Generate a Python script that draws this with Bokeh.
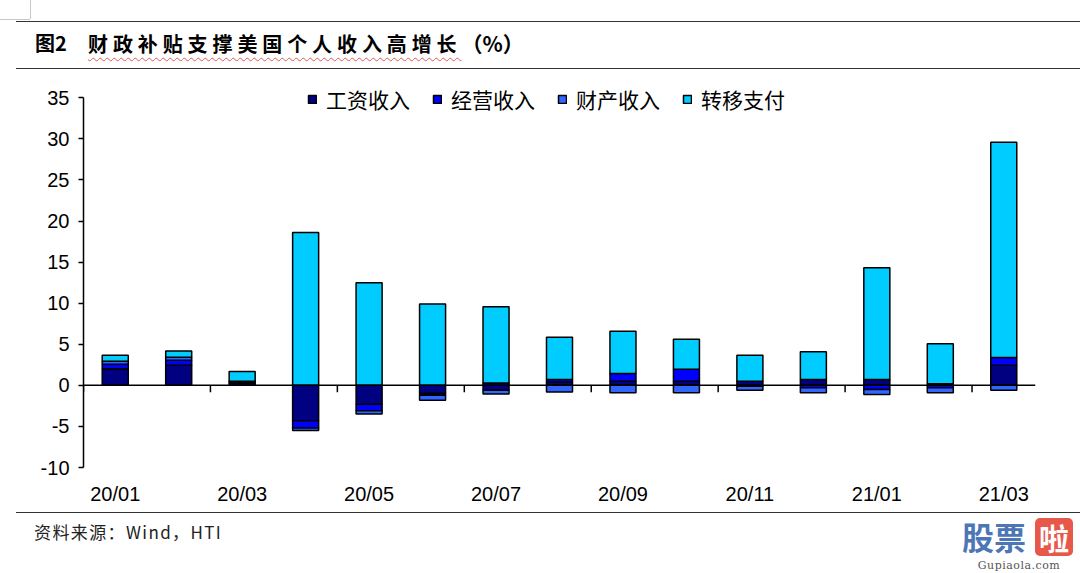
import numpy as np
from bokeh.plotting import figure
from bokeh.models import Range1d, FixedTicker, Span, Legend, LegendItem, Div
from bokeh.layouts import column
from bokeh.embed import file_html
from bokeh.resources import INLINE

# ---------------- data ----------------
months = ["20/01", "20/02", "20/03", "20/04", "20/05", "20/06", "20/07", "20/08",
          "20/09", "20/10", "20/11", "20/12", "21/01", "21/02", "21/03"]
wage     = [2.03, 2.44, 0.30, -4.3, -2.3, -1.0, -0.60, 0.40, 0.50, 0.50, 0.50, 0.70, 0.70, 0.20, 2.45]
business = [0.53, 0.61, 0.10, -0.9, -0.8, -0.2, 0.28, 0.30, 0.95, 1.46, -0.10, -0.30, -0.50, -0.30, 0.93]
prop     = [0.37, 0.37, 0.10, -0.3, -0.4, -0.6, -0.45, -0.80, -0.90, -0.90, -0.50, -0.60, -0.60, -0.60, -0.60]
transfer = [0.73, 0.77, 1.20, 18.6, 12.5, 9.9, 9.30, 5.15, 5.15, 3.65, 3.15, 3.40, 13.60, 4.85, 26.20]
series_names = ["工资收入", "经营收入", "财产收入", "转移支付"]
y_ticks = [-10, -5, 0, 5, 10, 15, 20, 25, 30, 35]
y_labels = ["-10", "-5", "0", "5", "10", "15", "20", "25", "30", "35"]

title_fig = "图2"
title_main = "财政补贴支撑美国个人收入高增长"
title_unit = "（%）"
source_text = "资料来源：Wind，HTI"

# ---------------- style ----------------
colors = ["#000080", "#0000FF", "#3366FF", "#00CCFF"]
W = 1080
H1, H2, H3 = 74, 436, 63
CJK = "Noto Sans CJK SC"
LAT = "Liberation Sans"

# ---------------- header (HTML text) ----------------
header_html = f"""
<div style="position:relative;width:{W}px;height:{H1}px;overflow:hidden;font-family:'{CJK}';color:#000;">
  <div style="position:absolute;left:30px;top:0px;width:0px;height:19px;border-left:1px solid #c8c8c8;"></div>
  <div style="position:absolute;left:0px;top:19px;width:30px;height:0px;border-top:1px solid #c8c8c8;"></div>
  <div style="position:absolute;left:16px;top:21px;width:{W-16}px;height:0px;border-top:1px solid #333;"></div>
  <div style="position:absolute;left:35px;top:31px;font-size:20px;line-height:24px;font-weight:bold;white-space:nowrap;">{title_fig}</div>
  <div style="position:absolute;left:88px;top:31px;font-size:20px;line-height:24px;font-weight:bold;white-space:nowrap;">
    <span style="letter-spacing:4.9px;text-decoration:underline wavy #e05a5a;text-decoration-thickness:1px;text-underline-offset:5px;">{title_main}</span><span style="font-size:21px;">{title_unit}</span>
  </div>
  <div style="position:absolute;left:16px;top:68px;width:{W-16}px;height:0px;border-top:1px solid #333;"></div>
</div>
"""
h = Div(text=header_html, width=W, height=H1, margin=0)

# ---------------- main chart ----------------
n = len(months)
x = np.arange(n)
p = figure(width=W, height=H2, x_range=Range1d(-0.5, n - 0.5), y_range=Range1d(-10, 36.5),
           output_backend="svg", toolbar_location=None,
           min_border_left=83, min_border_right=45, min_border_top=11, min_border_bottom=43)
p.outline_line_color = None
p.grid.visible = False

pos = np.zeros(n)
neg = np.zeros(n)
items = []
for name, vals, col in zip(series_names, [wage, business, prop, transfer], colors):
    v = np.array(vals, dtype=float)
    bottom = np.where(v >= 0, pos, neg + v)
    top = np.where(v >= 0, pos + v, neg)
    pos = pos + np.clip(v, 0, None)
    neg = neg + np.clip(v, None, 0)
    r = p.vbar(x=x, bottom=bottom, top=top, width=0.41, fill_color=col,
               line_color="black", line_width=1.5)
    items.append(LegendItem(label=name, renderers=[r]))

# zero line and category tick marks
p.add_layout(Span(location=0, dimension="width", line_color="black", line_width=1.5))
frame_h = H2 - 11 - 43
tick_len = 7 * (36.5 - (-10)) / frame_h
bnd = np.arange(-0.5, n - 1, 2)
p.segment(x0=bnd, y0=np.zeros(len(bnd)), x1=bnd, y1=np.full(len(bnd), -tick_len),
          line_color="black", line_width=1.5)

# axes
p.xaxis.ticker = FixedTicker(ticks=list(range(0, n, 2)))
p.xaxis.major_label_overrides = {int(i): months[i] for i in range(0, n, 2)}
p.xaxis.axis_line_color = None
p.xaxis.major_tick_line_color = None
p.xaxis.minor_tick_line_color = None
p.xaxis.major_label_standoff = 9
p.xaxis.major_label_text_font = LAT
p.xaxis.major_label_text_font_size = "20px"
p.xaxis.major_label_text_color = "black"

p.yaxis.ticker = FixedTicker(ticks=y_ticks)
p.yaxis.major_label_overrides = dict(zip(y_ticks, y_labels))
p.yaxis.bounds = (y_ticks[0], y_ticks[-1])
p.yaxis.axis_line_color = "black"
p.yaxis.axis_line_width = 1.5
p.yaxis.major_tick_line_color = "black"
p.yaxis.major_tick_line_width = 1.5
p.yaxis.major_tick_out = 5
p.yaxis.major_tick_in = 0
p.yaxis.minor_tick_line_color = None
p.yaxis.major_label_standoff = 9
p.yaxis.major_label_text_font = LAT
p.yaxis.major_label_text_font_size = "20px"
p.yaxis.major_label_text_color = "black"

legend = Legend(items=items, orientation="horizontal", location=(224, 353),
                glyph_width=10, glyph_height=10, label_standoff=9, spacing=22,
                label_text_font=CJK, label_text_font_size="21px", label_height=21,
                label_text_color="black", padding=0, margin=0,
                border_line_color=None, background_fill_alpha=0)
p.add_layout(legend)

# ---------------- footer (HTML text) ----------------
footer_html = f"""
<div style="position:relative;width:{W}px;height:{H3}px;overflow:hidden;font-family:'{CJK}';">
  <div style="position:absolute;left:16px;top:2px;width:{W-16}px;height:0px;border-top:1px solid #333;"></div>
  <div style="position:absolute;left:34px;top:11px;font-size:17px;line-height:22px;color:#222;white-space:nowrap;letter-spacing:1.4px;">{source_text}</div>
  <div style="position:absolute;left:962px;top:9px;font-size:32px;line-height:34px;font-weight:bold;color:#4d76b6;white-space:nowrap;">股票</div>
  <div style="position:absolute;left:1035px;top:8px;width:38px;height:38px;background:#e8584a;border-radius:5px;"></div>
  <div style="position:absolute;left:1035px;top:10px;width:38px;font-size:30px;line-height:34px;font-weight:bold;color:#fff;text-align:center;">啦</div>
  <div style="position:absolute;left:963px;top:49px;width:112px;font-family:'DejaVu Serif';font-size:11px;line-height:13px;color:#555;text-align:center;letter-spacing:0.5px;">Gupiaola.com</div>
</div>
"""
f = Div(text=footer_html, width=W, height=H3, margin=0)

layout = column(h, p, f, spacing=0)
open("out.html", "w").write(file_html(layout, INLINE))
